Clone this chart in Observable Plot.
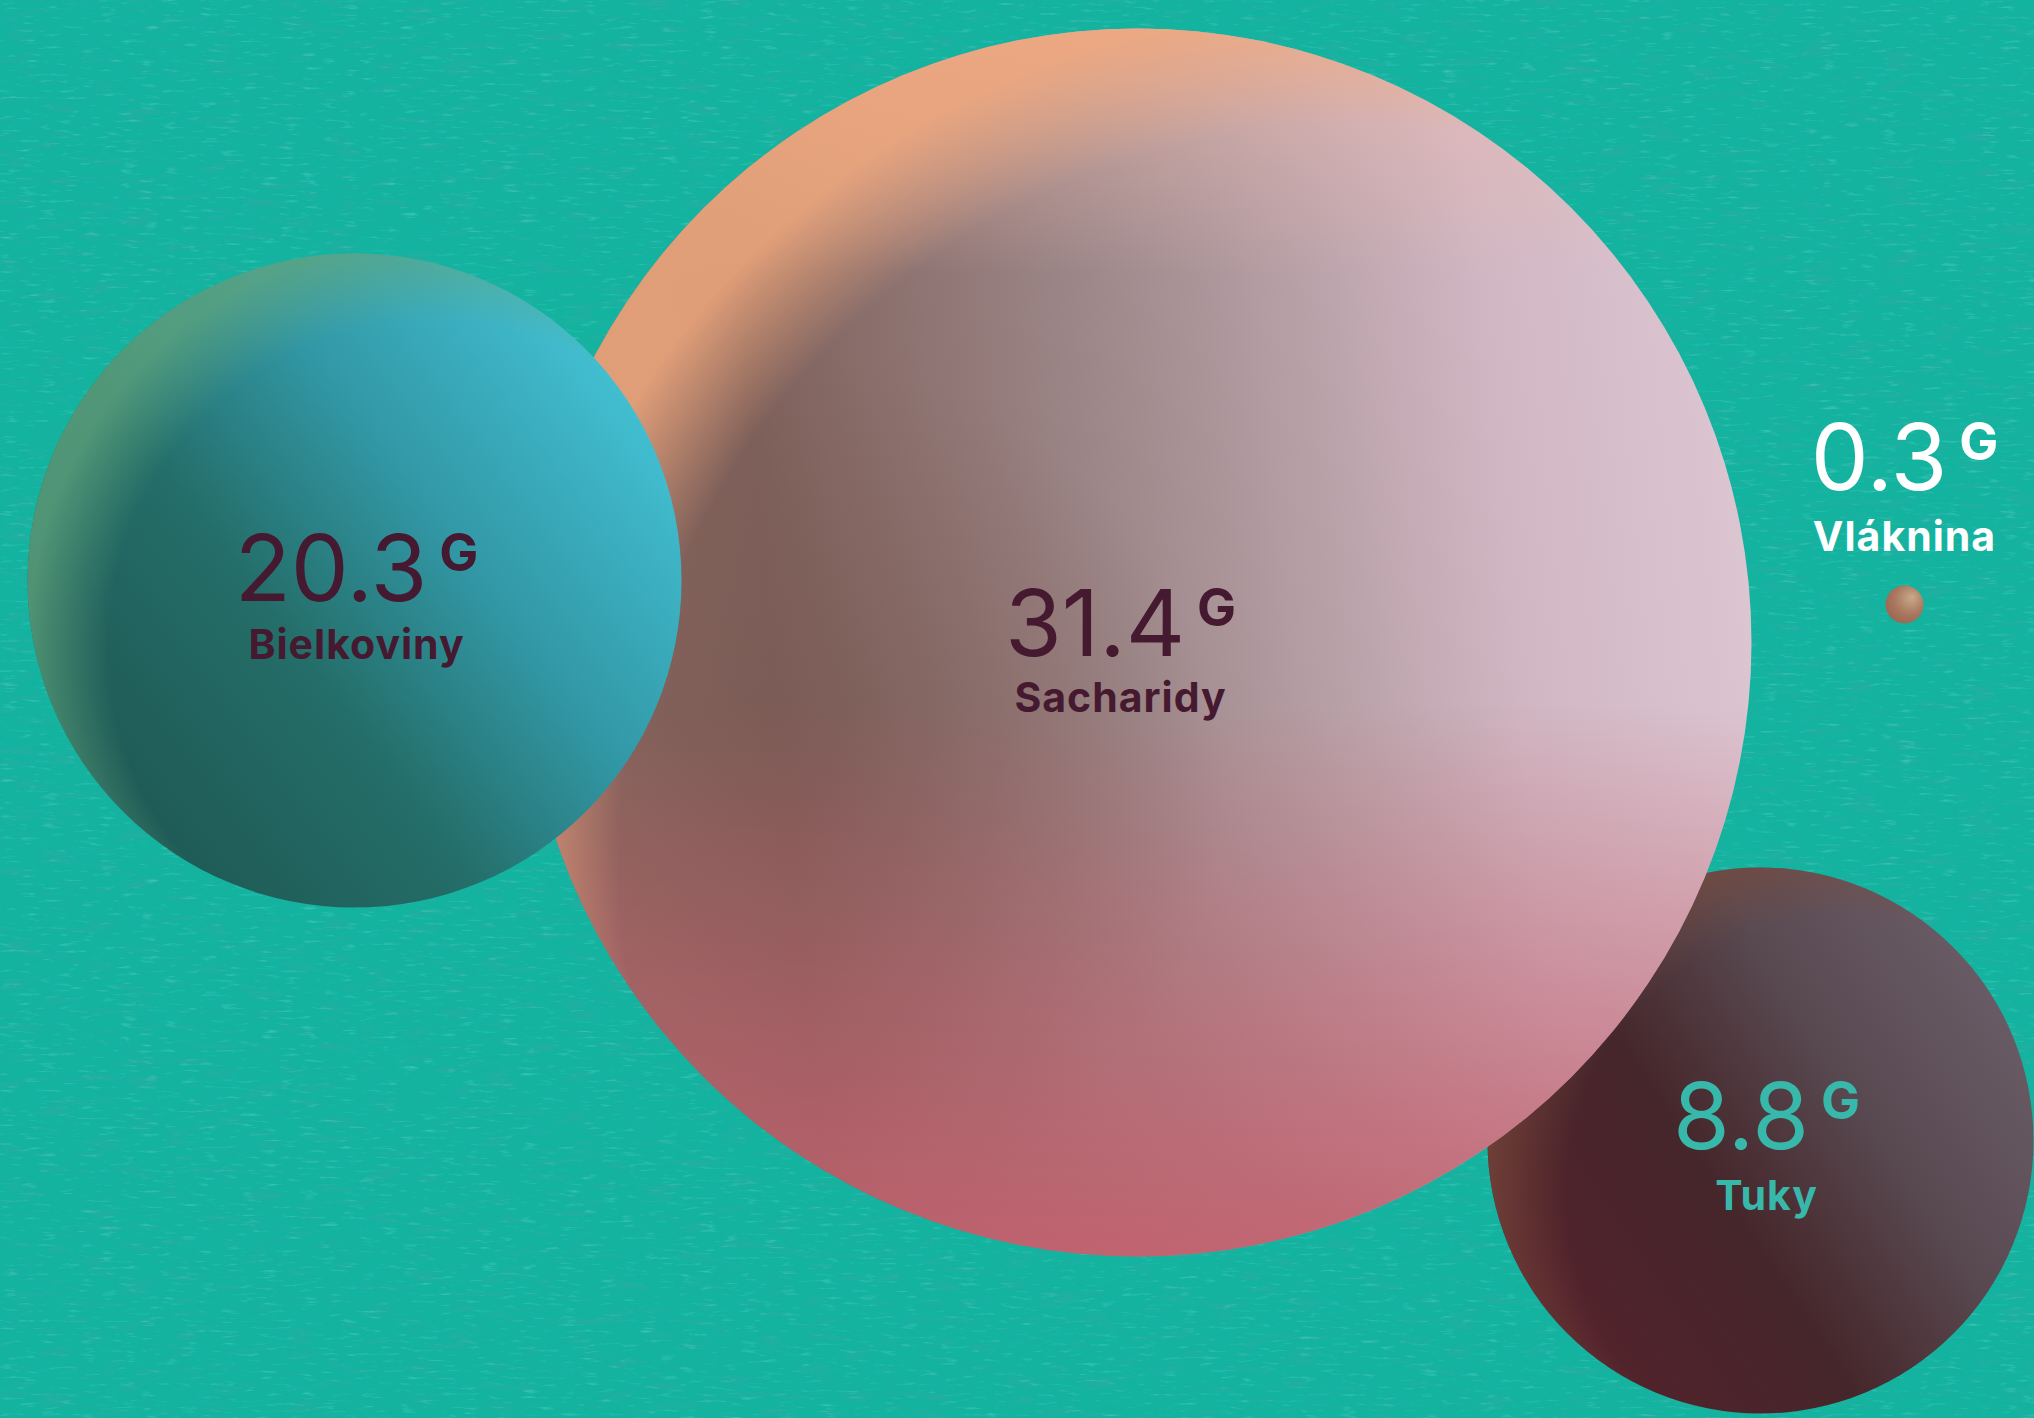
<!DOCTYPE html>
<html>
<head>
<meta charset="utf-8">
<script src="https://cdn.jsdelivr.net/npm/d3@7"></script>
<script src="https://cdn.jsdelivr.net/npm/@observablehq/plot@0.6"></script>
<style>
  html, body { margin: 0; padding: 0; overflow: hidden; background: #13b3a0; }
  #chart svg { display: block; }
</style>
</head>
<body>
<div id="chart"></div>
<script>
// ---- data ----
const categories = ["Sacharidy", "Bielkoviny", "Tuky", "Vláknina"];
const values = [31.4, 20.3, 8.8, 0.3];
const unit = "G";

// ---- layout (artistic placement, in pixel units of the canvas) ----
const W = 2034, H = 1418;
const layout = {
  "Sacharidy":  {cx: 1137, cy: 642,  tx: 1120, ty: 655,  ly: 711},
  "Bielkoviny": {cx: 354,  cy: 580,  tx: 356,  ty: 600,  ly: 658},
  "Tuky":       {cx: 1760, cy: 1140, tx: 1766, ty: 1148, ly: 1209},
  "Vláknina":   {cx: 1904, cy: 604,  tx: 1904, ty: 489,  ly: 550}
};
const drawOrder = ["Tuky", "Sacharidy", "Bielkoviny", "Vláknina"];
const textColors = ["#45192f", "#45192f", "#38b8aa", "#ffffff"];
const gradLayers = {
  "Sacharidy": ["sac1", "sac4", "sac2", "sac3"],
  "Bielkoviny": ["bie1", "bie2"],
  "Tuky": ["tuk1", "tuk2"],
  "Vláknina": ["vla1"]
};

const rows = categories.map((name, i) => ({name, value: values[i], ...layout[name]}));

const dotMarks = drawOrder.flatMap(name =>
  gradLayers[name].map(g =>
    Plot.dot(rows.filter(d => d.name === name), {
      x: "cx", y: "cy", r: "value", fill: `url(#${g})`, stroke: "none"
    })
  )
);

const chart = Plot.plot({
  width: W,
  height: H,
  margin: 0,
  style: {background: "#13b3a0", fontFamily: "Inter, 'Noto Sans', sans-serif"},
  x: {domain: [0, W], range: [0, W], axis: null},
  y: {domain: [0, H], range: [0, H], axis: null},
  r: {type: "linear", domain: [0.3, 8.8, 20.3, 31.4], range: [19, 273, 327, 614]},
  color: {type: "ordinal", domain: categories, range: textColors},
  marks: [
    ...dotMarks,
    Plot.text(rows, {
      x: "tx", y: "ty", text: d => d.value.toFixed(1), fill: "name",
      fontSize: 92, fontWeight: 400, lineAnchor: "bottom", textAnchor: "middle"
    }),
    Plot.text(rows, {
      x: "tx", y: "ly", text: "name", fill: "name",
      fontSize: 41, fontWeight: 700, lineAnchor: "bottom", textAnchor: "middle"
    })
  ]
});

// ---- decorate: gradients, paper texture, unit superscripts ----
const svg = d3.select(chart);
const defs = svg.insert("defs", ":first-child");

function lin(id, x1, y1, x2, y2, stops) {
  const g = defs.append("linearGradient").attr("id", id)
    .attr("x1", x1).attr("y1", y1).attr("x2", x2).attr("y2", y2);
  stops.forEach(([o, c, a]) => g.append("stop").attr("offset", o).attr("stop-color", c).attr("stop-opacity", a ?? 1));
}
function rad(id, cx, cy, r, stops, fx, fy) {
  const g = defs.append("radialGradient").attr("id", id)
    .attr("cx", cx).attr("cy", cy).attr("r", r);
  if (fx !== undefined) g.attr("fx", fx).attr("fy", fy);
  stops.forEach(([o, c, a]) => g.append("stop").attr("offset", o).attr("stop-color", c).attr("stop-opacity", a ?? 1));
}

// Sacharidy
lin("sac1", 0, 0.5, 1, 0.4, [[0, "#8e6c62"], [0.2, "#7e605a"], [0.5, "#a08a8c"], [0.8, "#d0b6c2"], [1, "#dcc6d2"]]);
rad("sac4", 0.22, 0.62, 0.35, [[0, "#775650", 0.55], [1, "#775650", 0]]);
lin("sac2", 0, 0, 0, 1, [[0, "#efbcae", 0.6], [0.2, "#efbcae", 0], [0.55, "#c4606e", 0], [1, "#c4606e", 0.9]]);
rad("sac3", 0.68, 0.68, 0.7, [[0, "#f0a87d", 0], [0.86, "#f0a87d", 0], [1, "#f0a87d", 0.85]]);
// Bielkoviny
lin("bie1", 0.15, 0.85, 0.95, 0.25, [[0, "#1f5a55"], [0.35, "#246d68"], [0.65, "#3298a6"], [1, "#42bfd2"]]);
rad("bie2", 0.62, 0.6, 0.62, [[0, "#5fa57d", 0], [0.8, "#5fa57d", 0], [1, "#5fa57d", 0.75]]);
// Tuky
lin("tuk1", 0.1, 0.9, 1, 0.3, [[0, "#56222c"], [0.4, "#45262a"], [0.7, "#594a52"], [1, "#6a5c66"]]);
rad("tuk2", 0.65, 0.6, 0.65, [[0, "#7a4a3c", 0], [0.78, "#7a4a3c", 0], [1, "#7a4a3c", 0.7]]);
// Vláknina
rad("vla1", 0.6, 0.4, 0.7, [[0, "#c8aa88"], [0.6, "#a8765e"], [1, "#9a6450"]], 0.7, 0.3);

// paper texture filters
const f1 = defs.append("filter").attr("id", "paperDark").attr("x", 0).attr("y", 0).attr("width", "100%").attr("height", "100%");
f1.append("feTurbulence").attr("type", "fractalNoise").attr("baseFrequency", "0.025 0.12").attr("numOctaves", 4).attr("seed", 7);
f1.append("feColorMatrix").attr("type", "matrix").attr("values", "0 0 0 0 0.03  0 0 0 0 0.40  0 0 0 0 0.36  3.0 0 0 0 -1.55");
const f2 = defs.append("filter").attr("id", "paperLight").attr("x", 0).attr("y", 0).attr("width", "100%").attr("height", "100%");
f2.append("feTurbulence").attr("type", "fractalNoise").attr("baseFrequency", "0.05 0.3").attr("numOctaves", 3).attr("seed", 23);
f2.append("feColorMatrix").attr("type", "matrix").attr("values", "0 0 0 0 0.35  0 0 0 0 0.85  0 0 0 0 0.80  3.4 0 0 0 -2.1");

const bg = svg.insert("g", "defs + *").attr("aria-label", "background");
bg.append("rect").attr("width", W).attr("height", H).attr("fill", "#13b3a0");
bg.append("rect").attr("width", W).attr("height", H).attr("filter", "url(#paperDark)").attr("opacity", 0.55);
bg.append("rect").attr("width", W).attr("height", H).attr("filter", "url(#paperLight)").attr("opacity", 0.25);

// text groups: first = values, second = labels
const textGroups = svg.selectAll('g[aria-label="text"]').nodes();
d3.select(textGroups[0]).selectAll("text").each(function () {
  d3.select(this).append("tspan")
    .attr("dx", 12).attr("dy", -30)
    .attr("font-size", 52).attr("font-weight", 700)
    .text(unit);
});
d3.select(textGroups[1]).selectAll("text").attr("letter-spacing", 1);

document.getElementById("chart").appendChild(chart);
</script>
</body>
</html>
